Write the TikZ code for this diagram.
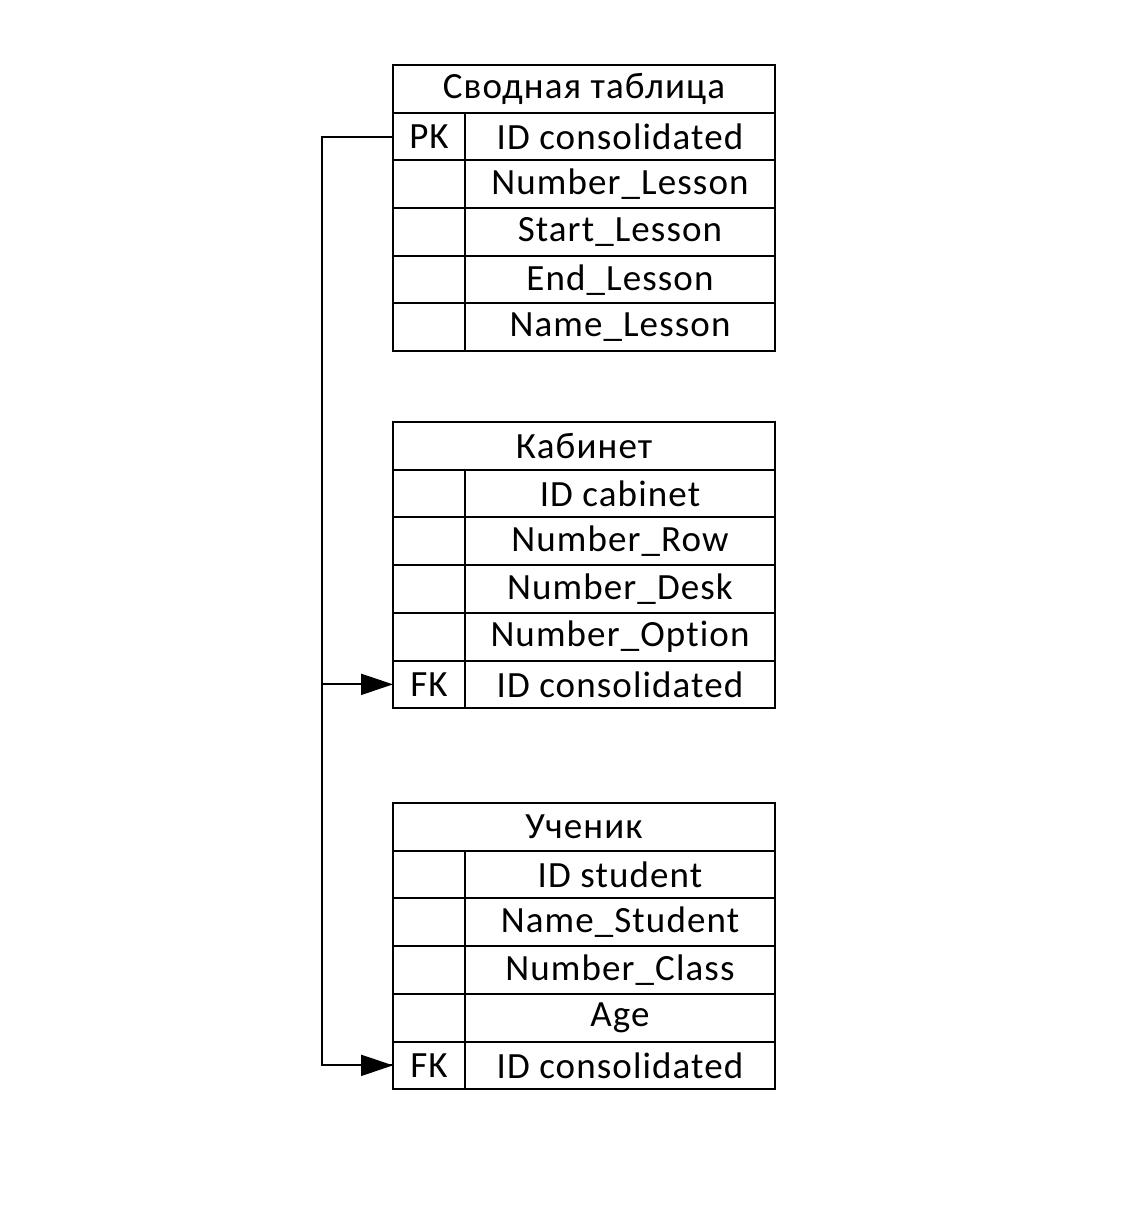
\documentclass[tikz,border=0pt]{standalone}
\usepackage{fontspec}
\setmainfont[Ligatures={NoCommon}, LetterSpace=3]{Carlito}
\usetikzlibrary{arrows.meta, positioning}

\begin{document}
\begin{tikzpicture}[x=0.5pt, y=-0.5pt, font=\fontsize{18.5}{20}\selectfont,
   cell/.style={draw, line width=1pt, inner sep=0pt, outer sep=0pt, minimum height=23.85pt},
   head/.style={cell, minimum width=191pt},
   key/.style={cell, minimum width=36pt},
   field/.style={cell, minimum width=155pt},
   link/.style={line width=1pt},
   fk/.style={link, -{Triangle[length=16pt, width=10.5pt]}}]
  \useasboundingbox (0,0) rectangle (1141,1219);
  % tables: top y of title row, name, title, six fields
  \foreach \t/\top/\title/\fa/\fb/\fc/\fd/\fe/\ka/\ke in {
      s/65/{Сводная таблица}/{ID consolidated}/Number\_Lesson/Start\_Lesson/End\_Lesson/Name\_Lesson/PK/{},
      c/422/Кабинет/{ID cabinet}/Number\_Row/Number\_Desk/Number\_Option/{ID consolidated}/{}/FK,
      u/803/Ученик/{ID student}/Name\_Student/Number\_Class/Age/{ID consolidated}/{}/FK} {
    \node[head, anchor=north west] (\t) at (393,\top) {\title};
    \node[key, below=0pt of \t.south west, anchor=north west] (\t k1) {\ka};
    \node[field, anchor=north west] (\t f1) at (\t k1.north east) {\fa};
    \foreach \f [count=\i from 2] in {\fb,\fc,\fd,\fe} {
      \pgfmathtruncatemacro{\p}{\i-1}
      \node[key, below=0pt of \t k\p.south west, anchor=north west]
           (\t k\i) {\ifnum\i=5 \ke\fi};
      \node[field, anchor=north west] (\t f\i) at (\t k\i.north east) {\f};
    }
  }
  % PK -> FK links
  \draw[link] (sk1.west) -- ++(-71,0) coordinate (bus) |- (uk5.west);
  \draw[fk] (bus |- ck5.west) -- (ck5.west);
  \draw[fk] (bus |- uk5.west) -- (uk5.west);
\end{tikzpicture}
\end{document}
